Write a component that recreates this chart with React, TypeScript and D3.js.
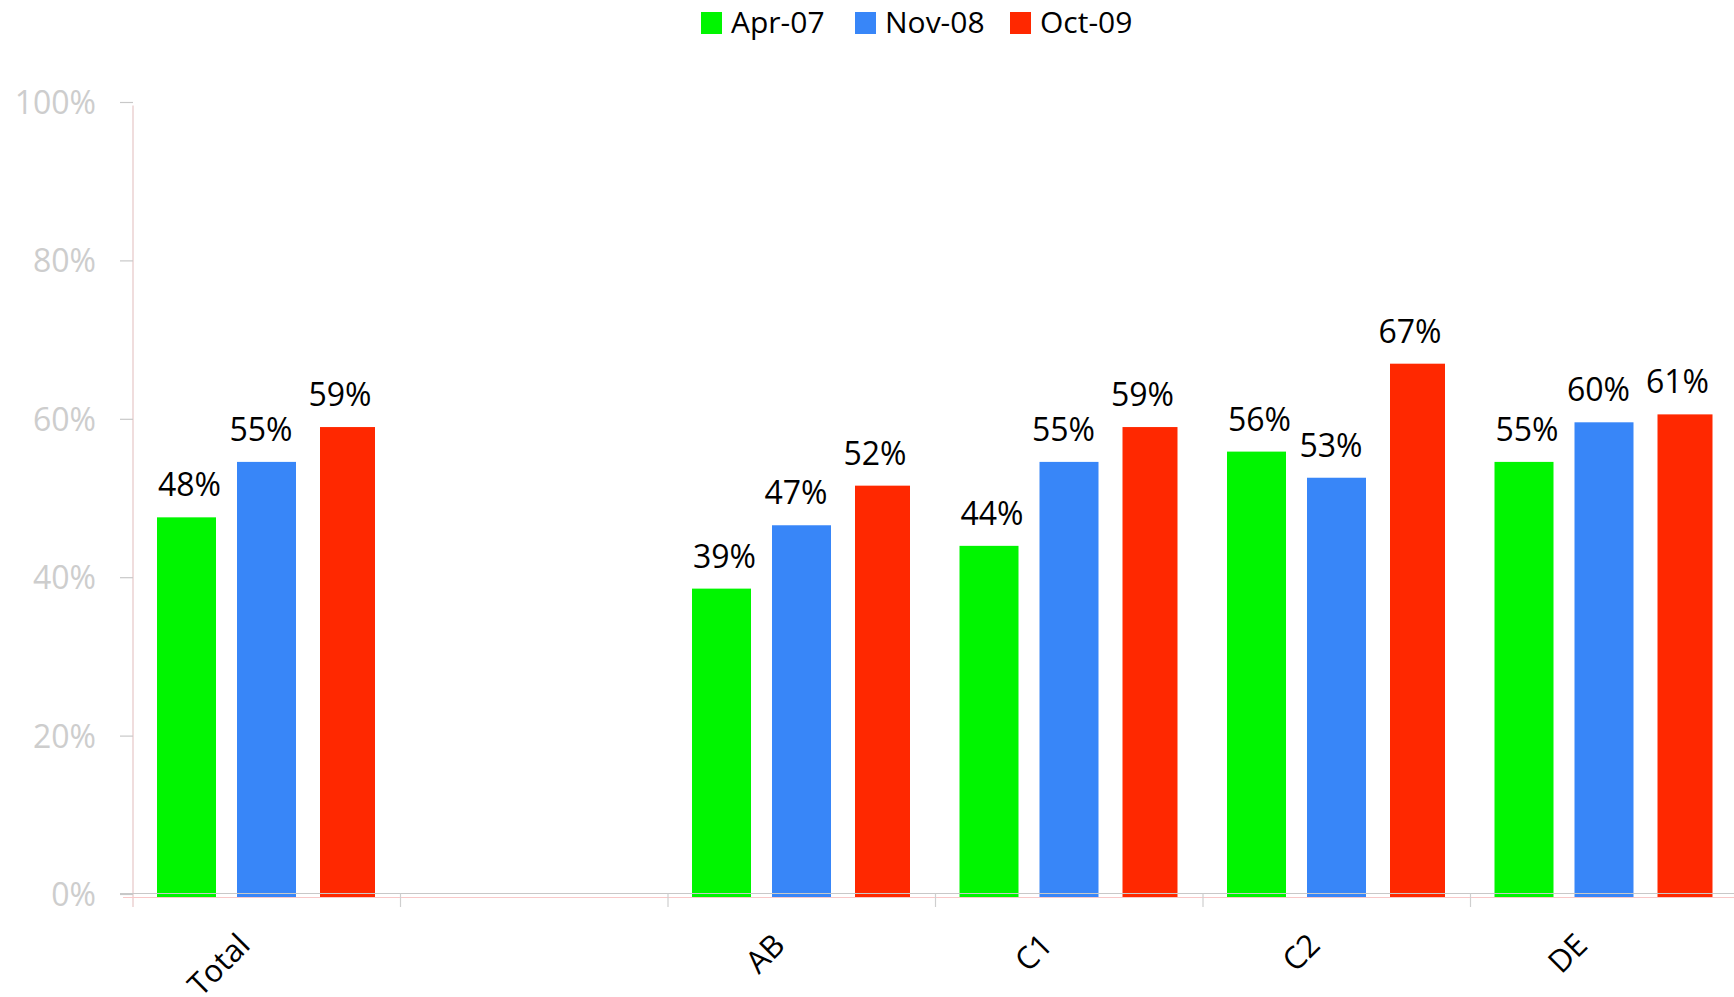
import React from "react";
import * as d3 from "d3";

const categories = ["Total", "", "AB", "C1", "C2", "DE"];
const seriesNames = ["Apr-07", "Nov-08", "Oct-09"];
const seriesColors = ["#00f500", "#3886f8", "#ff2800"];
const apr07 = [48, null, 39, 44.4, 56.3, 55];
const nov08 = [55, null, 47, 55, 53, 60];
const oct09 = [59.4, null, 52, 59.4, 67.4, 61];
const seriesValues = [apr07, nov08, oct09];
const yTicks = [0, 20, 40, 60, 80, 100];

// layout styles
const W = 1734;
const H = 997;
const barOffset = [24, 104, 187];
const barWidth = [59, 59, 55];
const labelDx = [3, -5.5, -7.5];
const FONT = "'Open Sans', 'Noto Sans', sans-serif";

export default function App() {
  const slots = categories.map((c, i) => (c === "" ? `__blank${i}` : c));
  const x = d3.scaleBand<string>().domain(slots).range([133, 133 + 267.5 * 6]).padding(0);
  const y = d3.scaleLinear().domain([0, 100]).range([897.5, 105.5]);
  const fmt = (v: number) => `${Math.round(v)}%`;

  return (
    <div style={{ position: "absolute", left: 0, top: 0 }}>
      <svg width={W} height={H} style={{ display: "block", background: "#fff" }} fontFamily={FONT}>
        {/* legend */}
        {seriesNames.map((n, i) => {
          const lx = [701, 855, 1010][i];
          return (
            <g key={n}>
              <rect x={lx} y={12} width={21} height={22} fill={seriesColors[i]} />
              <text x={lx + 30} y={32.5} fontSize={30} fill="#000">
                {n}
              </text>
            </g>
          );
        })}

        {/* y axis */}
        <line x1={133} x2={133} y1={y(100)} y2={907} stroke="#e6c6c6" strokeWidth={1.2} />
        {yTicks.map((t) => (
          <g key={t}>
            <line x1={120} x2={133} y1={y(t) - 3} y2={y(t) - 3} stroke="#c8c8c8" strokeWidth={1.2} />
            <text x={96} y={y(t) - 3 + 11.5} fontSize={32} fill="#cdcdcd" textAnchor="end">
              {t}%
            </text>
          </g>
        ))}

        {/* bars */}
        {slots.map((s, ci) =>
          seriesValues.map((vals, si) => {
            const v = vals[ci];
            if (v == null) return null;
            const bx = (x(s) as number) + barOffset[si];
            return (
              <g key={`${s}-${si}`}>
                <rect x={bx} y={y(v)} width={barWidth[si]} height={y(0) - y(v)} fill={seriesColors[si]} />
                <text
                  x={bx + barWidth[si] / 2 + labelDx[si]}
                  y={y(v) - 21}
                  fontSize={32}
                  fill="#000"
                  textAnchor="middle"
                >
                  {fmt(v)}
                </text>
              </g>
            );
          })
        )}

        {/* baselines */}
        <line x1={120} x2={W} y1={y(0) - 4} y2={y(0) - 4} stroke="#c8c8c8" strokeWidth={1.2} />
        <line x1={123} x2={W} y1={y(0)} y2={y(0)} stroke="#f8c8c8" strokeWidth={1} />

        {/* category ticks */}
        {slots.map((s, ci) =>
          ci === 0 ? null : (
            <line key={`t${s}`} x1={x(s)} x2={x(s)} y1={y(0) - 4} y2={907} stroke="#cfcfcf" strokeWidth={1.2} />
          )
        )}

        {/* x labels */}
        {slots.map((s, ci) => {
          const label = categories[ci];
          if (!label) return null;
          const cx = (x(s) as number) + x.bandwidth() / 2 - 15;
          const cy = 947;
          return (
            <text
              key={`l${s}`}
              x={cx}
              y={cy}
              fontSize={31}
              fill="#000"
              textAnchor="end"
              transform={`rotate(-45, ${cx}, ${cy})`}
            >
              {label}
            </text>
          );
        })}
      </svg>
    </div>
  );
}
